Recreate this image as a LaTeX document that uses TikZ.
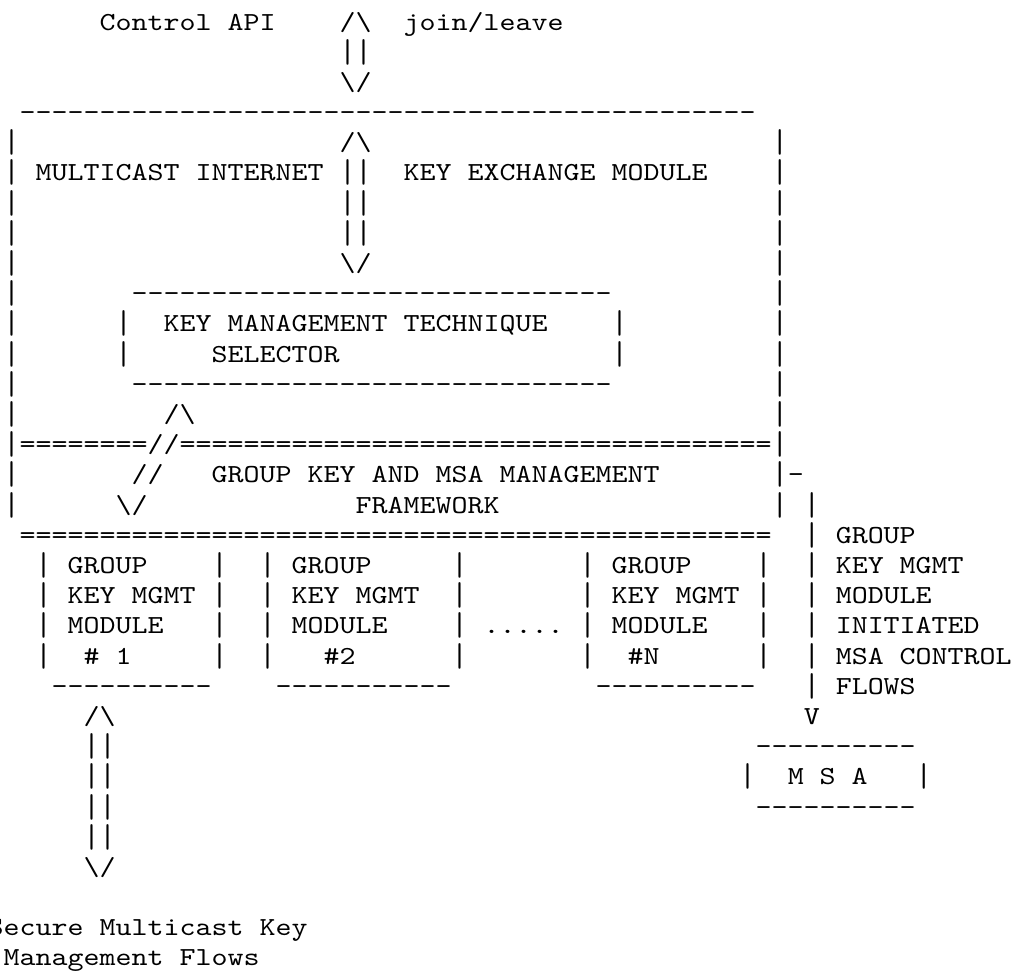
\documentclass[tikz,border=0pt]{standalone}
\usepackage{fontspec}
\setmonofont{lmmono10-regular}[Extension=.otf, FakeStretch=1.172]
\usepackage{graphicx}
\usepackage{tikz}

% taller bar glyphs, so stacked rows nearly join
\newcommand\tall[1]{\raisebox{-1pt}{\scalebox{1}[1.27]{#1}}}

\begin{document}
\begin{tikzpicture}[
  x=8pt, y=-15.095pt,
  mono/.style={font=\ttfamily\fontsize{13pt}{15pt}\selectfont,
               anchor=base west, inner sep=0pt, outer sep=0pt},
  lbl/.style={mono},
  art/.style={mono}
]
  \useasboundingbox (0.769,0.006) rectangle (64.39,32.137);

  % Control API and join/leave arrow
  \node[lbl] (api)    at (7,1)  {Control API};
  \node[art] (ctlUp)  at (22,1) {/\textbackslash};
  \node[lbl] (join)   at (26,1) {join/leave};
  \node[art] (ctlBar) at (22,2) {\tall{||}};
  \node[art] (ctlDn)  at (22,3) {\textbackslash/};

  % Outer box: top edge and sides
  \node[art] (kemTop) at (2,4) {----------------------------------------------};
  \node[art] (kemL5)  at (1,5)  {\tall{|}}; \node[art] (kemR5)  at (49,5)  {\tall{|}};
  \node[art] (kemL6)  at (1,6)  {\tall{|}}; \node[art] (kemR6)  at (49,6)  {\tall{|}};
  \node[art] (kemL7)  at (1,7)  {\tall{|}}; \node[art] (kemR7)  at (49,7)  {\tall{|}};
  \node[art] (kemL8)  at (1,8)  {\tall{|}}; \node[art] (kemR8)  at (49,8)  {\tall{|}};
  \node[art] (kemL9)  at (1,9)  {\tall{|}}; \node[art] (kemR9)  at (49,9)  {\tall{|}};
  \node[art] (kemL10) at (1,10) {\tall{|}}; \node[art] (kemR10) at (49,10) {\tall{|}};
  \node[art] (kemL11) at (1,11) {\tall{|}}; \node[art] (kemR11) at (49,11) {\tall{|}};
  \node[art] (kemL12) at (1,12) {\tall{|}}; \node[art] (kemR12) at (49,12) {\tall{|}};
  \node[art] (kemL13) at (1,13) {\tall{|}}; \node[art] (kemR13) at (49,13) {\tall{|}};
  \node[art] (kemL14) at (1,14) {\tall{|}}; \node[art] (kemR14) at (49,14) {\tall{|}};
  \node[art] (kemL15) at (1,15) {\tall{|}}; \node[art] (kemR15) at (49,15) {\tall{|}};
  \node[art] (kemL16) at (1,16) {\tall{|}}; \node[art] (kemR16) at (49,16) {\tall{|}};
  \node[art] (kemL17) at (1,17) {\tall{|}}; \node[art] (kemR17) at (49,17) {\tall{|}};

  % Multicast internet / key exchange module, with the double arrow
  \node[art] (kexUp)   at (22,5) {/\textbackslash};
  \node[lbl] (mcast)   at (3,6)  {MULTICAST INTERNET};
  \node[art] (kexBar6) at (22,6) {\tall{||}};
  \node[lbl] (kex)     at (26,6) {KEY EXCHANGE MODULE};
  \node[art] (kexBar7) at (22,7) {\tall{||}};
  \node[art] (kexBar8) at (22,8) {\tall{||}};
  \node[art] (kexDn)   at (22,9) {\textbackslash/};

  % Technique selector box
  \node[art] (selTop) at (9,10)  {------------------------------};
  \node[art] (selL11) at (8,11)  {\tall{|}};
  \node[lbl] (sel)    at (11,11) {KEY MANAGEMENT TECHNIQUE};
  \node[art] (selR11) at (39,11) {\tall{|}};
  \node[art] (selL12) at (8,12)  {\tall{|}};
  \node[lbl] (selB)   at (14,12) {SELECTOR};
  \node[art] (selR12) at (39,12) {\tall{|}};
  \node[art] (selBot) at (9,13)  {------------------------------};

  % Framework band with the slanted arrow
  \node[art] (fwUp)   at (11,14) {/\textbackslash};
  \node[art] (fwTopA) at (2,15)  {========};
  \node[art] (fwMid)  at (10,15) {//};
  \node[art] (fwTopB) at (12,15) {=====================================};
  \node[art] (fwMid2) at (9,16)  {//};
  \node[lbl] (fw)     at (14,16) {GROUP KEY AND MSA MANAGEMENT};
  \node[art] (tap)    at (50,16) {-};
  \node[art] (fwDn)   at (8,17)  {\textbackslash/};
  \node[lbl] (fwB)    at (23,17) {FRAMEWORK};
  \node[art] (fwBot)  at (2,18)  {===============================================};

  % MSA control flow column
  \node[art] (flow17) at (51,17) {\tall{|}};
  \node[art] (flow18) at (51,18) {\tall{|}}; \node[lbl] (flowT1) at (53,18) {GROUP};
  \node[art] (flow19) at (51,19) {\tall{|}}; \node[lbl] (flowT2) at (53,19) {KEY MGMT};
  \node[art] (flow20) at (51,20) {\tall{|}}; \node[lbl] (flowT3) at (53,20) {MODULE};
  \node[art] (flow21) at (51,21) {\tall{|}}; \node[lbl] (flowT4) at (53,21) {INITIATED};
  \node[art] (flow22) at (51,22) {\tall{|}}; \node[lbl] (flowT5) at (53,22) {MSA CONTROL};
  \node[art] (flow23) at (51,23) {\tall{|}}; \node[lbl] (flowT6) at (53,23) {FLOWS};
  \node[art] (flowTip) at (51,24) {V};

  % Group key management modules
  \node[art] (m1L19) at (3,19)  {\tall{|}}; \node[lbl] (m1a) at (5,19)  {GROUP};    \node[art] (m1R19) at (14,19) {\tall{|}};
  \node[art] (m1L20) at (3,20)  {\tall{|}}; \node[lbl] (m1b) at (5,20)  {KEY MGMT}; \node[art] (m1R20) at (14,20) {\tall{|}};
  \node[art] (m1L21) at (3,21)  {\tall{|}}; \node[lbl] (m1c) at (5,21)  {MODULE};   \node[art] (m1R21) at (14,21) {\tall{|}};
  \node[art] (m1L22) at (3,22)  {\tall{|}}; \node[lbl] (m1d) at (6,22)  {\# 1};     \node[art] (m1R22) at (14,22) {\tall{|}};
  \node[art] (m1Bot) at (4,23)  {----------};

  \node[art] (m2L19) at (17,19) {\tall{|}}; \node[lbl] (m2a) at (19,19) {GROUP};    \node[art] (m2R19) at (29,19) {\tall{|}};
  \node[art] (m2L20) at (17,20) {\tall{|}}; \node[lbl] (m2b) at (19,20) {KEY MGMT}; \node[art] (m2R20) at (29,20) {\tall{|}};
  \node[art] (m2L21) at (17,21) {\tall{|}}; \node[lbl] (m2c) at (19,21) {MODULE};   \node[art] (m2R21) at (29,21) {\tall{|}};
  \node[art] (m2L22) at (17,22) {\tall{|}}; \node[lbl] (m2d) at (21,22) {\#2};      \node[art] (m2R22) at (29,22) {\tall{|}};
  \node[art] (m2Bot) at (18,23) {-----------};

  \node[lbl] (dots) at (31,21) {.....};

  \node[art] (mNL19) at (37,19) {\tall{|}}; \node[lbl] (mNa) at (39,19) {GROUP};    \node[art] (mNR19) at (48,19) {\tall{|}};
  \node[art] (mNL20) at (37,20) {\tall{|}}; \node[lbl] (mNb) at (39,20) {KEY MGMT}; \node[art] (mNR20) at (48,20) {\tall{|}};
  \node[art] (mNL21) at (37,21) {\tall{|}}; \node[lbl] (mNc) at (39,21) {MODULE};   \node[art] (mNR21) at (48,21) {\tall{|}};
  \node[art] (mNL22) at (37,22) {\tall{|}}; \node[lbl] (mNd) at (40,22) {\#N};      \node[art] (mNR22) at (48,22) {\tall{|}};
  \node[art] (mNBot) at (38,23) {----------};

  % Key management flows arrow
  \node[art] (smUp)  at (6,24) {/\textbackslash};
  \node[art] (smB25) at (6,25) {\tall{||}};
  \node[art] (smB26) at (6,26) {\tall{||}};
  \node[art] (smB27) at (6,27) {\tall{||}};
  \node[art] (smB28) at (6,28) {\tall{||}};
  \node[art] (smDn)  at (6,29) {\textbackslash/};
  \node[lbl] (smA)   at (0,31) {Secure Multicast Key};
  \node[lbl] (smB)   at (1,32) {Management Flows};

  % MSA box
  \node[art] (msaTop) at (48,25) {----------};
  \node[art] (msaL)   at (47,26) {\tall{|}};
  \node[lbl] (msa)    at (50,26) {M S A};
  \node[art] (msaR)   at (58,26) {\tall{|}};
  \node[art] (msaBot) at (48,27) {----------};

\end{tikzpicture}
\end{document}
